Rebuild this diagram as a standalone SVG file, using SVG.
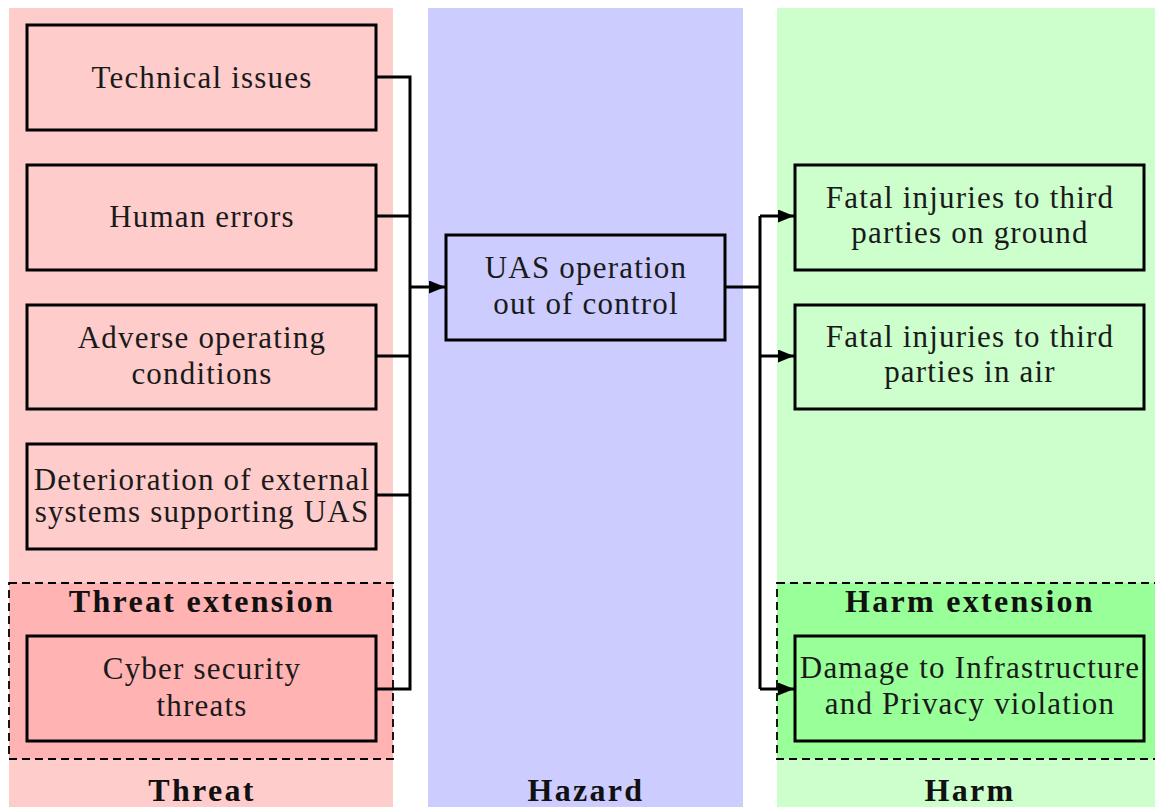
<svg xmlns="http://www.w3.org/2000/svg" width="1155" height="807" viewBox="0 0 1155 807">
<style>
.t{font-family:"Liberation Serif","DejaVu Serif",serif;font-size:31px;letter-spacing:1.2px;fill:#1a1a1a;text-anchor:middle}
.b{font-family:"Liberation Serif","DejaVu Serif",serif;font-size:32px;letter-spacing:2.3px;font-weight:bold;fill:#111;text-anchor:middle}
.box{stroke:#000;stroke-width:3}
.c{fill:none;stroke:#000;stroke-width:3;stroke-linejoin:miter}
.ext{stroke:#000;stroke-width:1.8;stroke-dasharray:8,5}
</style>
<defs>
<marker id="ah" markerWidth="16" markerHeight="13" refX="16" refY="6.5" orient="auto" markerUnits="userSpaceOnUse">
<path d="M0,0 L16,6.5 L0,13 Z" fill="#000"/>
</marker>
</defs>
<rect width="1155" height="807" fill="#fff"/>
<g id="columns">
<rect x="9" y="8" width="384" height="799" fill="#ffcccc"/>
<rect x="428" y="8" width="315" height="799" fill="#ccccff"/>
<rect x="777" y="8" width="378" height="799" fill="#ccffcc"/>
<rect class="ext" x="9" y="583" width="384" height="176" fill="#ffb3b3"/>
<rect class="ext" x="777" y="583" width="390" height="176" fill="#99ff99"/>
<text class="b" x="202" y="612">Threat extension</text>
<text class="b" x="970" y="612">Harm extension</text>
<text class="b" x="202" y="801">Threat</text>
<text class="b" x="586" y="801">Hazard</text>
<text class="b" x="970" y="801">Harm</text>
</g>
<g id="connectors">
<path class="c" d="M376,77 H410 V689 H376"/>
<path class="c" d="M376,216 H410"/>
<path class="c" d="M376,356 H410"/>
<path class="c" d="M376,495 H410"/>
<path class="c" d="M410,287 H445" marker-end="url(#ah)"/>
<path class="c" d="M725,287 H760"/>
<path class="c" d="M760,216 V689"/>
<path class="c" d="M760,216 H794" marker-end="url(#ah)"/>
<path class="c" d="M760,356 H794" marker-end="url(#ah)"/>
<path class="c" d="M760,689 H794" marker-end="url(#ah)"/>
</g>
<g id="n1"><rect class="box" x="27" y="25" width="349" height="105" fill="#ffcccc"/><text class="t" x="202" y="88">Technical issues</text></g>
<g id="n2"><rect class="box" x="27" y="165" width="349" height="105" fill="#ffcccc"/><text class="t" x="202" y="227">Human errors</text></g>
<g id="n3"><rect class="box" x="27" y="305" width="349" height="104" fill="#ffcccc"/><text class="t" x="202" y="348">Adverse operating</text><text class="t" x="202" y="384">conditions</text></g>
<g id="n4"><rect class="box" x="27" y="444" width="349" height="105" fill="#ffcccc"/><text class="t" x="202" y="490">Deterioration of external</text><text class="t" x="202" y="522">systems supporting UAS</text></g>
<g id="n5"><rect class="box" x="27" y="636" width="349" height="105" fill="#ffb3b3"/><text class="t" x="202" y="679">Cyber security</text><text class="t" x="202" y="716">threats</text></g>
<g id="hazard"><rect class="box" x="446" y="235" width="279" height="105" fill="#ccccff"/><text class="t" x="586" y="278">UAS operation</text><text class="t" x="586" y="314">out of control</text></g>
<g id="h1"><rect class="box" x="795" y="165" width="349" height="105" fill="#ccffcc"/><text class="t" x="970" y="208">Fatal injuries to third</text><text class="t" x="970" y="243">parties on ground</text></g>
<g id="h2"><rect class="box" x="795" y="305" width="349" height="104" fill="#ccffcc"/><text class="t" x="970" y="347">Fatal injuries to third</text><text class="t" x="970" y="382">parties in air</text></g>
<g id="h3"><rect class="box" x="795" y="636" width="349" height="105" fill="#99ff99"/><text class="t" x="970" y="678">Damage to Infrastructure</text><text class="t" x="970" y="714">and Privacy violation</text></g>
</svg>
